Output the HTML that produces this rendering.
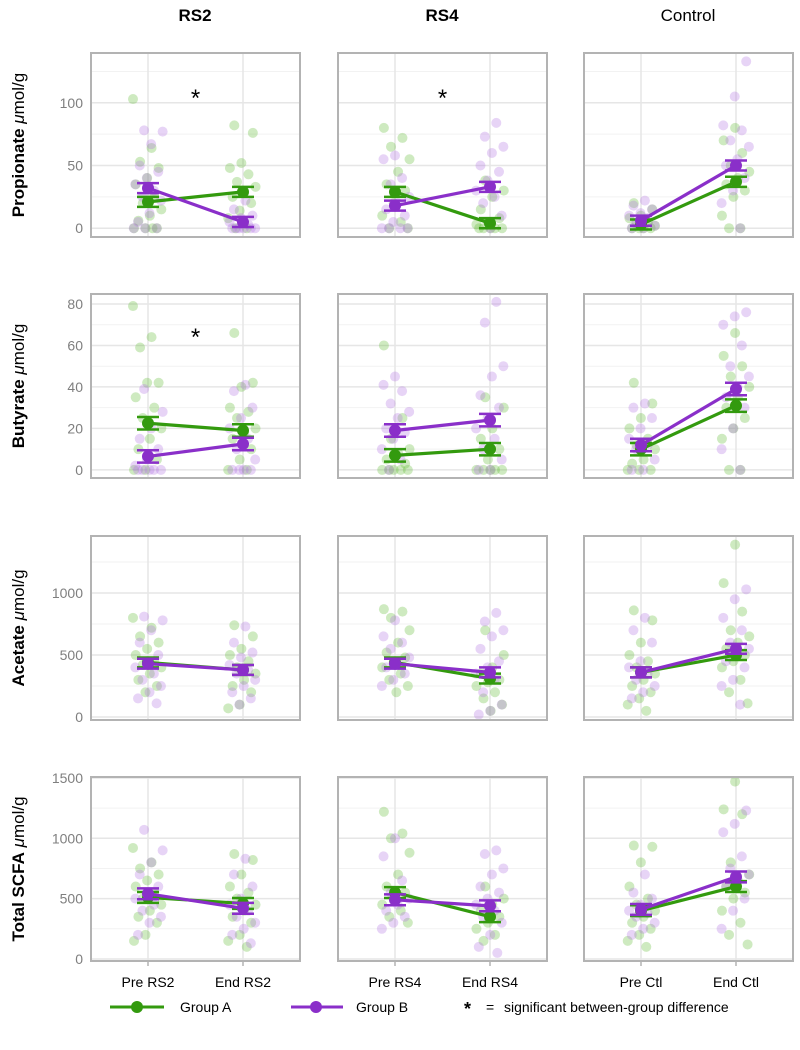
<!DOCTYPE html>
<html><head><meta charset="utf-8"><style>
body{margin:0;background:#fff;}
svg{display:block;font-family:"Liberation Sans",Arial,sans-serif;}
</style></head><body>
<svg id="chart" width="800" height="1050" xmlns="http://www.w3.org/2000/svg">
<g>
<text x="195" y="21" text-anchor="middle" font-size="17" font-weight="bold">RS2</text>
<text x="442" y="21" text-anchor="middle" font-size="17" font-weight="bold">RS4</text>
<text x="688" y="21" text-anchor="middle" font-size="17">Control</text>
</g>
<g>
<line x1="110" y1="1007" x2="164" y2="1007" stroke="#339a0e" stroke-width="3"/>
<circle cx="137" cy="1007" r="6" fill="#339a0e"/>
<text x="180" y="1012" font-size="14">Group A</text>
<line x1="291" y1="1007" x2="343" y2="1007" stroke="#8a2fc9" stroke-width="3"/>
<circle cx="316" cy="1007" r="6" fill="#8a2fc9"/>
<text x="356" y="1012" font-size="14">Group B</text>
<text x="464" y="1015" font-size="18" font-weight="bold">*</text>
<text x="486" y="1012" font-size="14">=</text>
<text x="504" y="1012" font-size="14">significant between-group difference</text>
</g>
<g id="panels"></g>
</svg>
<script>
// categories
const columns = ["RS2","RS4","Ctl"];
const xCats = [["Pre RS2","End RS2"],["Pre RS4","End RS4"],["Pre Ctl","End Ctl"]];
const rowNames = ["Propionate","Butyrate","Acetate","Total SCFA"];
const rowTicks = [[0,50,100],[0,20,40,60,80],[0,500,1000],[0,500,1000,1500]];
const rowMinor = [[25,75,125],[10,30,50,70],[250,750,1250],[250,750,1250]];
const rowDomain = [[-7,139.7],[-3.9,84.8],[-24,1460],[-17,1508]];
const rowSE = [4,3,40,45];
// means [column][pre,end]
const propMeanA = [[21,29],[29,4],[3,37]];
const propMeanB = [[32,5],[18,33],[6,50]];
const butMeanA = [[22.5,19],[7,10],[10,31]];
const butMeanB = [[6.5,12.5],[19,24],[12,39]];
const aceMeanA = [[440,380],[440,310],[360,500]];
const aceMeanB = [[430,380],[430,360],[360,550]];
const totMeanA = [[510,460],[550,350],[400,600]];
const totMeanB = [[540,420],[490,440],[410,680]];
// raw points [pre,end]
const propRS2A=[[103,64,53,48,40,35,25,20,15,10,6,0,0,0,0],[82,76,52,48,43,37,33,28,25,20,14,8,0,0]];
const propRS2B=[[78,77,67,50,45,40,35,30,25,22,12,5,0,0,0],[22,15,10,8,5,3,0,0,0,0,0,0]];
const propRS4A=[[80,72,65,55,45,35,30,20,10,5,0,0],[38,30,25,15,8,5,3,0,0,0,0,0]];
const propRS4B=[[58,55,40,35,25,20,15,10,5,0,0,0,0],[84,73,65,60,50,45,38,30,25,20,10,0]];
const propCtlA=[[20,15,10,8,5,3,2,0,0,0,0],[80,70,60,50,45,40,35,30,25,10,0,0]];
const propCtlB=[[22,18,15,12,10,8,5,2,0,0],[133,105,82,78,70,65,55,50,40,30,20,0]];
const butRS2A=[[79,64,59,42,42,35,30,25,20,15,10,5,0,0],[66,42,40,30,28,25,20,18,15,10,5,0,0]];
const butRS2B=[[39,28,20,15,10,5,2,0,0,0,0,0],[41,38,30,25,20,15,10,5,0,0,0,0]];
const butRS4A=[[60,25,15,10,8,5,3,0,0,0,0,0],[35,30,20,15,10,5,0,0,0,0,0]];
const butRS4B=[[45,41,38,32,28,25,20,18,15,10,5,0],[81,71,50,45,36,30,25,20,15,10,5,0,0]];
const butCtlA=[[42,32,25,20,15,12,10,5,3,0,0,0],[66,55,50,45,40,35,30,25,20,15,0,0]];
const butCtlB=[[32,30,25,20,15,12,10,5,0,0],[76,74,70,60,50,45,40,35,30,20,10,0]];
const aceRS2A=[[800,720,650,600,550,500,450,420,400,350,300,250,200],[740,650,550,500,450,400,350,300,250,200,100,70]];
const aceRS2B=[[810,780,700,600,500,450,400,350,300,250,200,150,110],[730,600,520,480,420,380,350,300,250,200,150,100]];
const aceRS4A=[[870,850,800,700,600,520,480,440,400,350,300,250,200],[700,500,400,350,300,280,250,200,150,100,50]];
const aceRS4B=[[780,650,600,550,480,440,400,350,300,250],[840,770,700,650,550,450,400,350,300,200,100,50,20]];
const aceCtlA=[[860,780,600,500,450,400,350,300,250,200,150,100,50],[1390,1080,850,700,650,600,550,500,450,400,300,200,110]];
const aceCtlB=[[800,700,600,450,400,350,300,250,200,150],[1030,950,800,700,600,550,500,450,400,300,250,100]];
const totRS2A=[[920,800,750,700,650,600,550,500,450,400,350,300,200,150],[870,820,700,600,550,500,450,400,350,300,200,150,100]];
const totRS2B=[[1070,900,800,700,600,550,500,450,400,350,300,200],[830,700,600,500,450,400,350,300,250,200,130]];
const totRS4A=[[1220,1040,1000,880,700,600,550,500,450,400,350,300],[600,500,450,400,350,300,250,200,150]];
const totRS4B=[[1000,850,650,550,500,450,400,350,300,250],[900,870,750,700,600,550,500,450,400,350,300,200,100,50]];
const totCtlA=[[940,930,800,600,500,450,400,350,300,250,200,150,100],[1470,1240,1200,800,700,650,600,550,500,400,300,200,120]];
const totCtlB=[[700,550,500,450,400,380,350,300,250,200],[1230,1120,1050,850,750,700,650,600,500,400,250]];
const sigMarks = [[0,0,107],[0,1,107],[1,0,66]]; // [row, col, y-value]

const meansA=[propMeanA,butMeanA,aceMeanA,totMeanA];
const meansB=[propMeanB,butMeanB,aceMeanB,totMeanB];
const ptsA=[[propRS2A,propRS4A,propCtlA],[butRS2A,butRS4A,butCtlA],[aceRS2A,aceRS4A,aceCtlA],[totRS2A,totRS4A,totCtlA]];
const ptsB=[[propRS2B,propRS4B,propCtlB],[butRS2B,butRS4B,butCtlB],[aceRS2B,aceRS4B,aceCtlB],[totRS2B,totRS4B,totCtlB]];

const NS="http://www.w3.org/2000/svg";
const root=document.getElementById('panels');
const GREEN="#339a0e", PURPLE="#8a2fc9", GPT="#5cb82e", PPT="#b070e0";
const panelX=[91,338,584], panelY=[53,294,536,777], PW=209, PH=184;
function mk(tag,attrs,parent){const e=document.createElementNS(NS,tag);for(const k in attrs)e.setAttribute(k,attrs[k]);parent.appendChild(e);return e;}

for(let r=0;r<4;r++){
  const dom=rowDomain[r];
  const y0=panelY[r];
  const ys=v=>y0+PH-(v-dom[0])/(dom[1]-dom[0])*PH;
  const yt=mk('text',{x:0,y:0,'font-size':17,'text-anchor':'middle',transform:`translate(24,${y0+PH/2}) rotate(-90)`},document.getElementById('chart'));
  
  
  yt.innerHTML=`<tspan font-weight="bold">${rowNames[r]}</tspan> <tspan font-style="italic">μ</tspan>mol/g`;
  for(let c=0;c<3;c++){
    const x0=panelX[c];
    const xs=k=>x0+PW*(0.6+k)/2.2;
    const g=mk('g',{},root);
    
    
    mk('rect',{x:x0,y:y0,width:PW,height:PH,fill:'#fff'},g);
    rowMinor[r].forEach(v=>{if(v<dom[1]){const l=mk('line',{x1:x0,x2:x0+PW,y1:ys(v),y2:ys(v),stroke:'#f2f2f2','stroke-width':1},g);
      
      }});
    rowTicks[r].forEach(v=>{const l=mk('line',{x1:x0,x2:x0+PW,y1:ys(v),y2:ys(v),stroke:'#e6e6e6','stroke-width':1.5},g);
      
      
      if(c===0){const t=mk('text',{x:x0-8,y:ys(v)+5,'text-anchor':'end','font-size':14,fill:'#7f7f7f'},g);t.textContent=v;
        
        }});
    [0,1].forEach(k=>{const l=mk('line',{x1:xs(k),x2:xs(k),y1:y0,y2:y0+PH,stroke:'#e6e6e6','stroke-width':1.5},g);
      
      });
    [[ptsA,GPT],[ptsB,PPT]].forEach(([P,col],gi)=>{
      P[r][c].forEach((arr,k)=>{arr.forEach((v,i)=>{
        const f=((i*0.618+gi*0.37+k*0.21+c*0.13)%1);
        const jx=(f-0.5)*30;
        const p=mk('circle',{cx:xs(k)+jx,cy:ys(v),r:5,fill:col,'fill-opacity':0.3},g);
        
        });});
    });
    [[meansA,GREEN,'a'],[meansB,PURPLE,'b']].forEach(([M,col,nm])=>{
      const m=M[r][c], se=rowSE[r];
      const ln=mk('line',{x1:xs(0),y1:ys(m[0]),x2:xs(1),y2:ys(m[1]),stroke:col,'stroke-width':3.2},g);
      
      
      [0,1].forEach(k=>{
        const eb=mk('path',{d:`M${xs(k)-11},${ys(m[k]+se)}h22M${xs(k)},${ys(m[k]+se)}V${ys(m[k]-se)}M${xs(k)-11},${ys(m[k]-se)}h22`,stroke:col,'stroke-width':2.5,fill:'none'},g);
        
        
        const d=mk('circle',{cx:xs(k),cy:ys(m[k]),r:6,fill:col},g);
        
        
      });
    });
    mk('rect',{x:x0,y:y0,width:PW,height:PH,fill:'none',stroke:'#b3b3b3','stroke-width':2},g);
    if(r===3){[0,1].forEach(k=>{
      mk('line',{x1:xs(k),x2:xs(k),y1:y0+PH,y2:y0+PH+5,stroke:'#b3b3b3','stroke-width':1.5},g);
      const t=mk('text',{x:xs(k),y:y0+PH+26,'text-anchor':'middle','font-size':14},g);t.textContent=xCats[c][k];
      
      });}
    sigMarks.forEach(s=>{if(s[0]===r&&s[1]===c){
      const t=mk('text',{x:x0+PW/2,y:ys(s[2])+12,'text-anchor':'middle','font-size':24},g);t.textContent='*';
      
      }});
  }
}
</script>
</body></html>
